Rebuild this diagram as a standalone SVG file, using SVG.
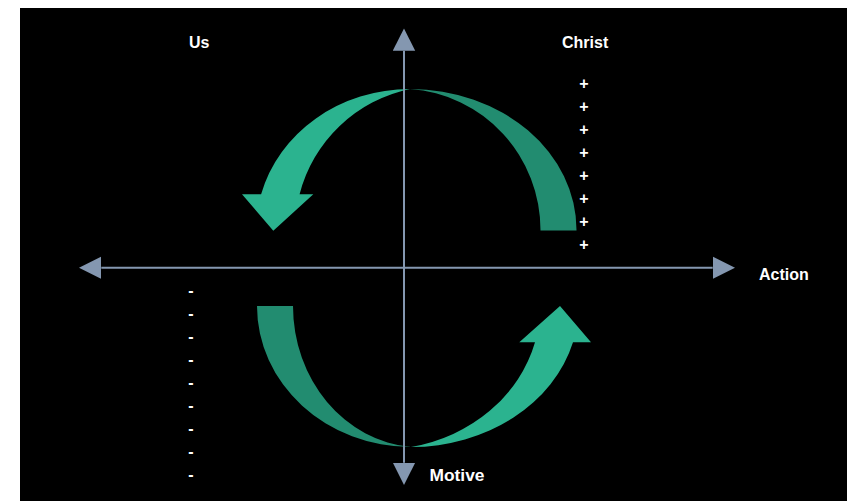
<svg xmlns="http://www.w3.org/2000/svg" width="847" height="501" viewBox="0 0 847 501">
  <defs>
    <style>
      .lbl { font-family: "Liberation Sans", Arial, sans-serif; font-weight: bold; font-size: 16px; fill: #FFFFFF; }
      .sign { font-family: "Liberation Sans", Arial, sans-serif; font-weight: bold; font-size: 16px; fill: #FFFFFF; text-anchor: middle; }
      .front { fill: #2BB38F; }
      .back { fill: #228C70; }
      .axis { stroke: #8497B0; stroke-width: 2; fill: none; marker-start: url(#head); marker-end: url(#head); }
    </style>
    <marker id="head" markerUnits="userSpaceOnUse" markerWidth="23" markerHeight="23" viewBox="0 -11.5 23 23" refX="0" refY="0" orient="auto-start-reverse">
      <path d="M0,-11.2 L22.3,0 L0,11.2 Z" fill="#8497B0"/>
    </marker>
  </defs>

  <rect x="20" y="8" width="827" height="493" fill="#000000"/>

  <g id="cycle-top">
    <path class="back" d="M410,89 A166 141 0 0 1 576.5,230.5 L540.5,230.5 A140 141.4 0 0 0 410,89 Z"/>
    <path class="front" d="M410,89 A154 141 0 0 0 261.1,194.3 L242,194.3 L273.3,230.7 L313.3,194.3 L299.6,194.3 A145 144.1 0 0 1 410,89 Z"/>
  </g>

  <g id="cycle-bottom">
    <path class="back" d="M411,447 A154 141 0 0 1 257,306 L293,306 A128 141.4 0 0 0 411,447 Z"/>
    <path class="front" d="M411,447 A167.5 141 0 0 0 573,342.3 L591,342.3 L560,306 L519.3,342.3 L535,342.3 A159 143.6 0 0 1 411,447 Z"/>
  </g>

  <g id="axes">
    <line class="axis" x1="404" y1="50.7" x2="404" y2="462.7"/>
    <line class="axis" x1="101.3" y1="267.8" x2="712.7" y2="267.8"/>
  </g>

  <g id="label-us"><text class="lbl" x="189" y="48.3">Us</text></g>
  <g id="label-christ"><text class="lbl" x="562" y="48.3">Christ</text></g>
  <g id="label-action"><text class="lbl" x="759" y="280">Action</text></g>
  <g id="label-motive"><text class="lbl" x="429.5" y="481" textLength="55" lengthAdjust="spacingAndGlyphs">Motive</text></g>

  <g id="plus-signs">
    <text class="sign" x="584" y="88.6">+</text>
    <text class="sign" x="584" y="111.6">+</text>
    <text class="sign" x="584" y="134.6">+</text>
    <text class="sign" x="584" y="157.6">+</text>
    <text class="sign" x="584" y="180.6">+</text>
    <text class="sign" x="584" y="203.6">+</text>
    <text class="sign" x="584" y="226.6">+</text>
    <text class="sign" x="584" y="249.6">+</text>
  </g>

  <g id="minus-signs">
    <text class="sign" x="191" y="296.3">-</text>
    <text class="sign" x="191" y="319.3">-</text>
    <text class="sign" x="191" y="342.3">-</text>
    <text class="sign" x="191" y="365.3">-</text>
    <text class="sign" x="191" y="388.3">-</text>
    <text class="sign" x="191" y="411.3">-</text>
    <text class="sign" x="191" y="434.3">-</text>
    <text class="sign" x="191" y="457.3">-</text>
    <text class="sign" x="191" y="480.3">-</text>
  </g>
</svg>
